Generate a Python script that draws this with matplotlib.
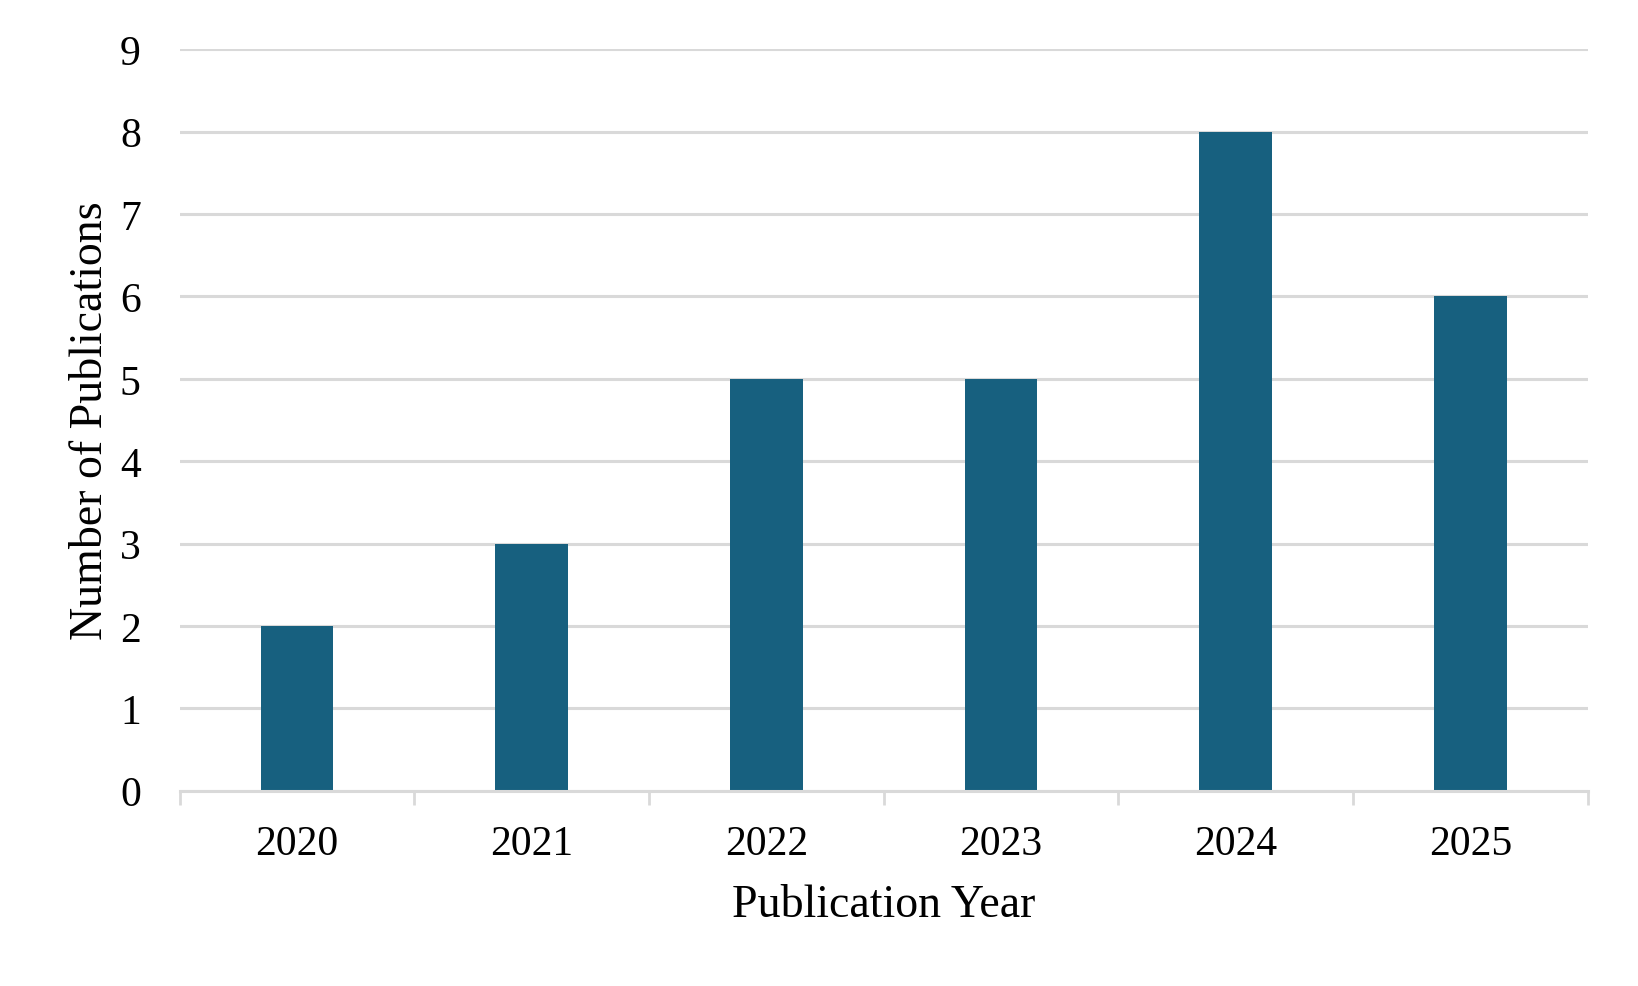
import matplotlib.pyplot as plt
import numpy as np

# publication counts per year
years = ['2020', '2021', '2022', '2023', '2024', '2025']
counts = [2, 3, 5, 5, 8, 6]

BAR_COLOR = '#17607f'
GRID_COLOR = '#d9d9d9'

plt.rcParams['font.family'] = ['Liberation Serif', 'DejaVu Serif']

fig = plt.figure(figsize=(16.38, 9.87), dpi=100)
ax = fig.add_axes([0.1097, 0.1979, 0.8596, 0.7511])

x = np.arange(len(years))
ax.bar(x, counts, width=0.31, color=BAR_COLOR, zorder=3)

ax.set_xlim(-0.5, len(years) - 0.5)
ax.set_ylim(0, 9)
ax.set_yticks(range(0, 10))
ax.yaxis.grid(True, color=GRID_COLOR, linewidth=2.2, zorder=0)

ax.set_xticks(x)
ax.set_xticklabels(years)
ax.set_xticks(np.arange(-0.5, len(years)), minor=True)
ax.tick_params(axis='x', which='major', length=0, pad=24, labelsize=30)
ax.tick_params(axis='x', which='minor', length=10, width=2, color=GRID_COLOR)
ax.tick_params(axis='y', length=0, pad=28, labelsize=30)

for side in ['top', 'right', 'left']:
    ax.spines[side].set_visible(False)
ax.spines['bottom'].set_color(GRID_COLOR)
ax.spines['bottom'].set_linewidth(2.2)
ax.spines['bottom'].set_zorder(4)

ax.set_xlabel('Publication Year', fontsize=33, labelpad=15)
ax.set_ylabel('Number of Publications', fontsize=33, labelpad=6)

fig.savefig('out.png', dpi=100, facecolor='white')
